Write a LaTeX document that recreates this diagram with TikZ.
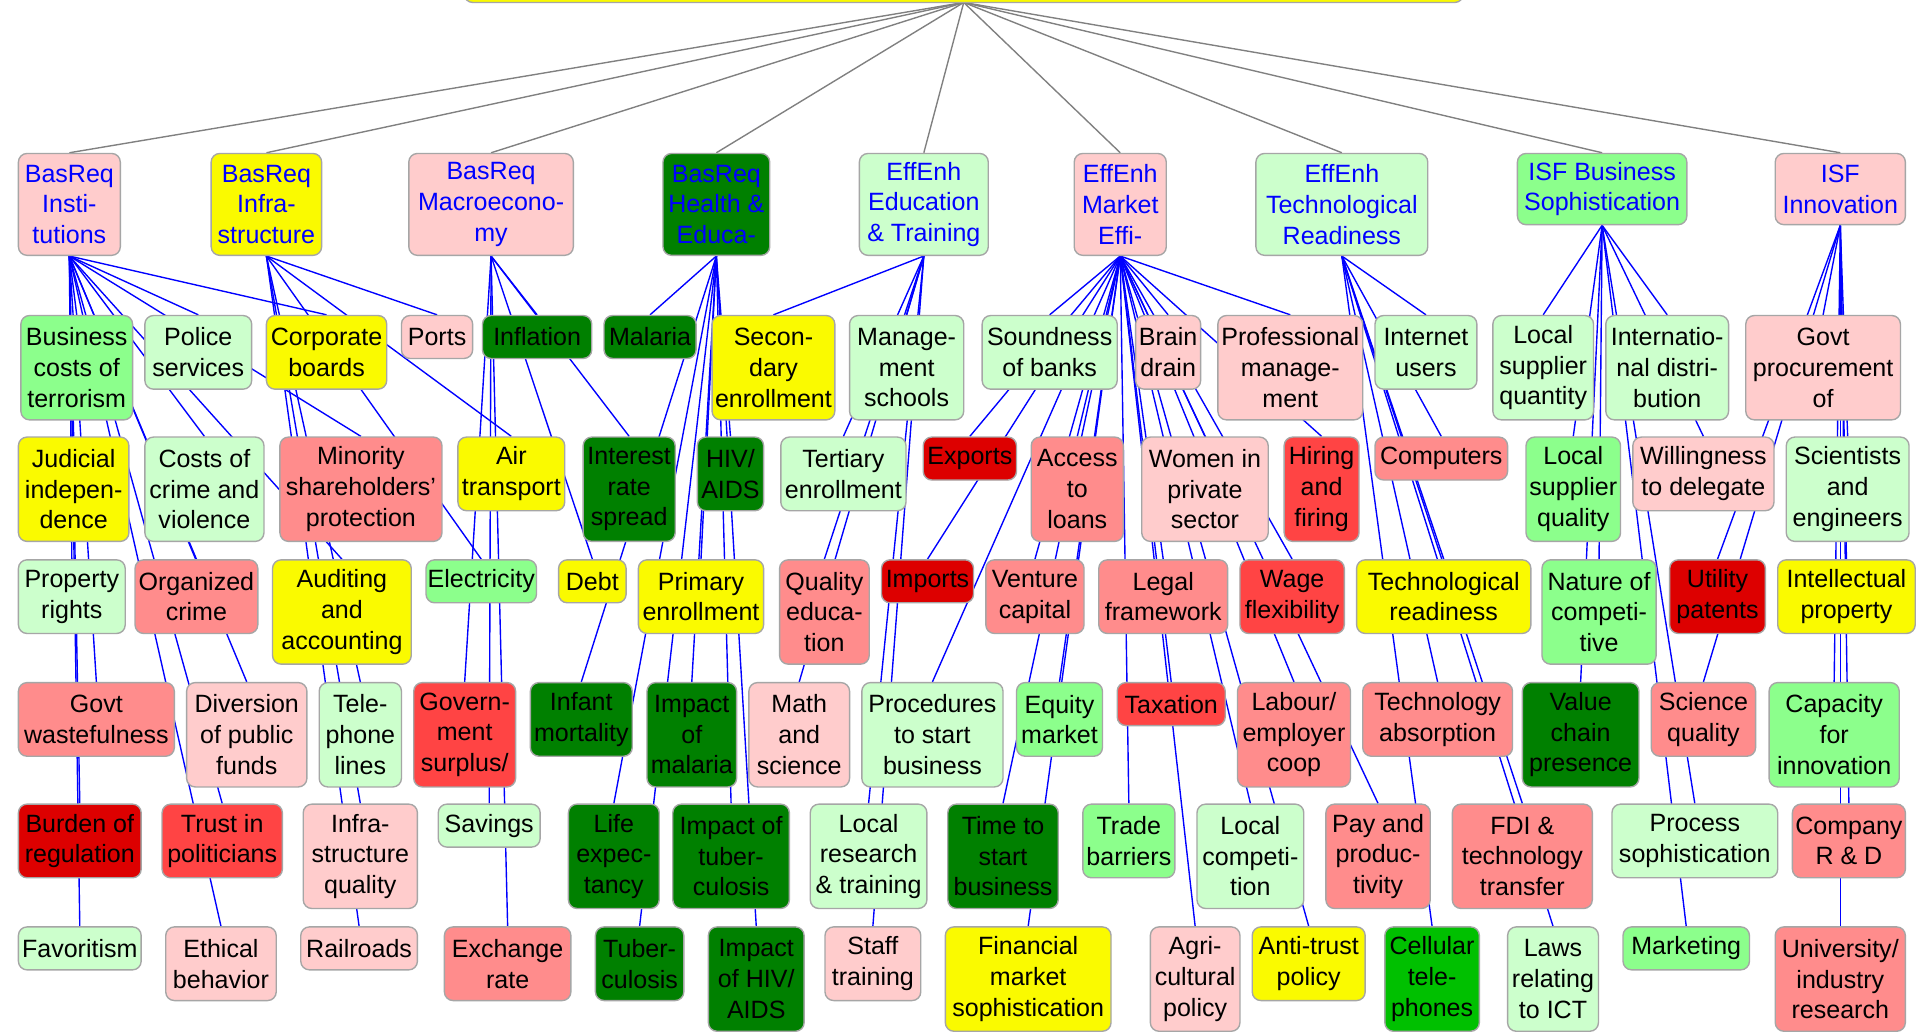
\documentclass[tikz,border=0pt]{standalone}
\usepackage{fontspec}
\setmainfont{Liberation Sans}
\usetikzlibrary{backgrounds}
\definecolor{cPink}{HTML}{FFCCCC}
\definecolor{cYellow}{HTML}{FAFA00}
\definecolor{cLgreen}{HTML}{CCFFCC}
\definecolor{cMgreen}{HTML}{8CFF8C}
\definecolor{cDgreen}{HTML}{008000}
\definecolor{cBgreen}{HTML}{00C000}
\definecolor{cSalmon}{HTML}{FF8C8C}
\definecolor{cRed}{HTML}{FF4444}
\definecolor{cDred}{HTML}{DD0000}
% box from corner (x1,y1) to corner (x2,y2)
\newcommand{\gbox}[7]{\node[#1,minimum width={(#5-#3)*0.025cm},minimum height={(#6-#4)*0.025cm}]
  (#2) at ({(#3+#5)/2},{(#4+#6)/2}) {#7};}
\begin{document}
\begin{tikzpicture}[x=0.025cm,y=-0.025cm,
  box/.style={draw=gray!70,line width=0.8pt,rounded corners=5pt,inner sep=0pt,align=center,
    font=\fontsize{14.5}{17.8}\selectfont},
  pkbox/.style={box,fill=cPink},
  yebox/.style={box,fill=cYellow},
  lgbox/.style={box,fill=cLgreen},
  mgbox/.style={box,fill=cMgreen},
  dgbox/.style={box,fill=cDgreen},
  bgbox/.style={box,fill=cBgreen},
  sabox/.style={box,fill=cSalmon},
  rdbox/.style={box,fill=cRed},
  drbox/.style={box,fill=cDred},
  cat/.style={text=blue},
  link/.style={blue,line width=0.8pt},
  tie/.style={gray,line width=0.8pt}]
\useasboundingbox (0,0) rectangle (1568,841);
\gbox{yebox}{top}{378}{-40}{1192}{2}{}
\coordinate (apex) at (785,2);
% pillars
\gbox{pkbox,cat}{ins}{15}{125}{98}{208}{BasReq\\Insti-\\tutions}
\gbox{yebox,cat}{inf}{172}{125}{262}{208}{BasReq\\Infra-\\structure}
\gbox{pkbox,cat}{mac}{333}{125}{467}{208}{BasReq\\Macroecono-\\my}
\gbox{dgbox,cat}{hea}{540}{125}{627}{208}{BasReq\\Health \&\\Educa-}
\gbox{lgbox,cat}{edu}{700}{125}{805}{208}{EffEnh\\Education\\\& Training}
\gbox{pkbox,cat}{mar}{875}{125}{950}{208}{EffEnh\\Market\\Effi-}
\gbox{lgbox,cat}{tec}{1023}{125}{1163}{208}{EffEnh\\Technological\\Readiness}
\gbox{mgbox,cat}{bus}{1236}{125}{1374}{183}{ISF Business\\Sophistication}
\gbox{pkbox,cat}{inn}{1446}{125}{1552}{183}{ISF\\Innovation}
% row 2
\gbox{mgbox}{bct}{17}{257}{108}{342}{Business\\costs of\\terrorism}
\gbox{lgbox}{pol}{118}{257}{205}{317}{Police\\services}
\gbox{yebox}{cbo}{217}{257}{315}{317}{Corporate\\boards}
\gbox{pkbox}{por}{327}{257}{385}{292}{Ports}
\gbox{dgbox}{infl}{393}{257}{482}{292}{Inflation}
\gbox{dgbox}{mal}{492}{257}{567}{292}{Malaria}
\gbox{yebox}{sec}{580}{257}{680}{342}{Secon-\\dary\\enrollment}
\gbox{lgbox}{mgs}{692}{257}{785}{342}{Manage-\\ment\\schools}
\gbox{lgbox}{snd}{800}{257}{910}{317}{Soundness\\of banks}
\gbox{pkbox}{brn}{925}{257}{978}{317}{Brain\\drain}
\gbox{pkbox}{prm}{992}{257}{1110}{342}{Professional\\manage-\\ment}
\gbox{lgbox}{inu}{1120}{257}{1203}{317}{Internet\\users}
\gbox{lgbox}{lsn}{1216}{257}{1298}{342}{Local\\supplier\\quantity}
\gbox{lgbox}{ind}{1308}{257}{1408}{342}{Internatio-\\nal distri-\\bution}
\gbox{pkbox}{gpr}{1422}{257}{1548}{342}{Govt\\procurement\\of}
% row 3
\gbox{yebox}{jud}{15}{356}{105}{441}{Judicial\\indepen-\\dence}
\gbox{lgbox}{ccv}{118}{356}{215}{441}{Costs of\\crime and\\violence}
\gbox{sabox}{msp}{228}{356}{360}{441}{Minority\\shareholders'\\protection}
\gbox{yebox}{air}{373}{356}{460}{416}{Air\\transport}
\gbox{dgbox}{irs}{475}{356}{550}{441}{Interest\\rate\\spread}
\gbox{dgbox}{hiv}{568}{356}{622}{416}{HIV/\\AIDS}
\gbox{lgbox}{ter}{636}{356}{738}{416}{Tertiary\\enrollment}
\gbox{drbox}{exp}{752}{356}{828}{391}{Exports}
\gbox{sabox}{acl}{840}{356}{915}{441}{Access\\to\\loans}
\gbox{pkbox}{wom}{930}{356}{1033}{441}{Women in\\private\\sector}
\gbox{rdbox}{hir}{1046}{356}{1107}{441}{Hiring\\and\\firing}
\gbox{sabox}{cmp}{1120}{356}{1228}{391}{Computers}
\gbox{mgbox}{lsq}{1243}{356}{1320}{441}{Local\\supplier\\quality}
\gbox{pkbox}{wtd}{1330}{356}{1445}{416}{Willingness\\to delegate}
\gbox{lgbox}{sce}{1455}{356}{1555}{441}{Scientists\\and\\engineers}
% row 4
\gbox{lgbox}{prr}{15}{456}{102}{516}{Property\\rights}
\gbox{sabox}{orc}{110}{456}{210}{516}{Organized\\crime}
\gbox{yebox}{aud}{222}{456}{335}{541}{Auditing\\and\\accounting}
\gbox{mgbox}{ele}{347}{456}{437}{491}{Electricity}
\gbox{yebox}{dbt}{455}{456}{510}{491}{Debt}
\gbox{yebox}{pen}{520}{456}{622}{516}{Primary\\enrollment}
\gbox{sabox}{qed}{635}{456}{708}{541}{Quality\\educa-\\tion}
\gbox{drbox}{imp}{718}{456}{793}{491}{Imports}
\gbox{sabox}{vca}{803}{456}{883}{516}{Venture\\capital}
\gbox{sabox}{lfr}{895}{456}{1000}{516}{Legal\\framework}
\gbox{rdbox}{wfl}{1010}{456}{1095}{516}{Wage\\flexibility}
\gbox{yebox}{trd}{1105}{456}{1247}{516}{Technological\\readiness}
\gbox{mgbox}{nat}{1256}{456}{1349}{541}{Nature of\\competi-\\tive}
\gbox{drbox}{upa}{1360}{456}{1438}{516}{Utility\\patents}
\gbox{yebox}{ipr}{1448}{456}{1560}{516}{Intellectual\\property}
% row 5
\gbox{sabox}{gwf}{15}{556}{142}{616}{Govt\\wastefulness}
\gbox{pkbox}{dpf}{152}{556}{250}{641}{Diversion\\of public\\funds}
\gbox{lgbox}{tel}{260}{556}{327}{641}{Tele-\\phone\\lines}
\gbox{rdbox}{gsu}{337}{556}{420}{641}{Govern-\\ment\\surplus/}
\gbox{dgbox}{inm}{432}{556}{515}{616}{Infant\\mortality}
\gbox{dgbox}{ima}{527}{556}{600}{641}{Impact\\of\\malaria}
\gbox{pkbox}{mas}{610}{556}{692}{641}{Math\\and\\science}
\gbox{lgbox}{pro}{702}{556}{817}{641}{Procedures\\to start\\business}
\gbox{mgbox}{eqm}{828}{556}{898}{616}{Equity\\market}
\gbox{rdbox}{tax}{910}{556}{998}{591}{Taxation}
\gbox{sabox}{lab}{1008}{556}{1100}{641}{Labour/\\employer\\coop}
\gbox{sabox}{tab}{1110}{556}{1232}{616}{Technology\\absorption}
\gbox{dgbox}{vch}{1240}{556}{1335}{641}{Value\\chain\\presence}
\gbox{sabox}{scq}{1345}{556}{1430}{616}{Science\\quality}
\gbox{mgbox}{cin}{1441}{556}{1547}{641}{Capacity\\for\\innovation}
% row 6
\gbox{drbox}{bur}{15}{655}{115}{715}{Burden of\\regulation}
\gbox{rdbox}{tru}{132}{655}{230}{715}{Trust in\\politicians}
\gbox{pkbox}{isq}{247}{655}{340}{740}{Infra-\\structure\\quality}
\gbox{lgbox}{sav}{357}{655}{440}{690}{Savings}
\gbox{dgbox}{lex}{463}{655}{537}{740}{Life\\expec-\\tancy}
\gbox{dgbox}{itb}{548}{655}{643}{740}{Impact of\\tuber-\\culosis}
\gbox{lgbox}{lrt}{660}{655}{755}{740}{Local\\research\\\& training}
\gbox{dgbox}{tsb}{772}{655}{862}{740}{Time to\\start\\business}
\gbox{mgbox}{tba}{882}{655}{957}{715}{Trade\\barriers}
\gbox{lgbox}{lco}{975}{655}{1062}{740}{Local\\competi-\\tion}
\gbox{sabox}{pay}{1080}{655}{1165}{740}{Pay and\\produc-\\tivity}
\gbox{sabox}{fdi}{1183}{655}{1297}{740}{FDI \&\\technology\\transfer}
\gbox{lgbox}{psp}{1313}{655}{1448}{715}{Process\\sophistication}
\gbox{sabox}{crd}{1460}{655}{1552}{715}{Company\\R \& D}
% row 7
\gbox{lgbox}{fav}{15}{755}{115}{790}{Favoritism}
\gbox{pkbox}{eth}{135}{755}{225}{815}{Ethical\\behavior}
\gbox{pkbox}{rai}{245}{755}{340}{790}{Railroads}
\gbox{sabox}{exr}{362}{755}{465}{815}{Exchange\\rate}
\gbox{dgbox}{tub}{485}{755}{557}{815}{Tuber-\\culosis}
\gbox{dgbox}{ihv}{577}{755}{655}{840}{Impact\\of HIV/\\AIDS}
\gbox{pkbox}{stt}{672}{755}{750}{815}{Staff\\training}
\gbox{yebox}{fms}{770}{755}{905}{840}{Financial\\market\\sophistication}
\gbox{pkbox}{agr}{937}{755}{1010}{840}{Agri-\\cultural\\policy}
\gbox{yebox}{atp}{1020}{755}{1112}{815}{Anti-trust\\policy}
\gbox{bgbox}{cel}{1128}{755}{1205}{840}{Cellular\\tele-\\phones}
\gbox{lgbox}{lict}{1228}{755}{1302}{840}{Laws\\relating\\to ICT}
\gbox{mgbox}{mkt}{1322}{755}{1425}{790}{Marketing}
\gbox{sabox}{uir}{1446}{755}{1552}{840}{University/\\industry\\research}
\begin{scope}[on background layer]
\fill[white] (0,0) rectangle (1568,841);
\foreach \p in {ins,inf,mac,hea,edu,mar,tec,bus,inn}
  \draw[tie] (apex) -- (\p.north);
\foreach \c in {bct,pol,cbo,jud,ccv,msp,prr,orc,aud,gwf,dpf,bur,tru,fav,eth}
  \draw[link] (ins.south) -- (\c.north);
\foreach \c in {por,air,ele,tel,isq,rai}
  \draw[link] (inf.south) -- (\c.north);
\foreach \c in {infl,irs,dbt,gsu,sav,exr}
  \draw[link] (mac.south) -- (\c.north);
\foreach \c in {mal,hiv,pen,inm,ima,lex,itb,tub,ihv}
  \draw[link] (hea.south) -- (\c.north);
\foreach \c in {sec,mgs,ter,qed,mas,lrt,stt}
  \draw[link] (edu.south) -- (\c.north);
\foreach \c in {snd,brn,prm,exp,acl,wom,hir,imp,vca,lfr,wfl,pro,eqm,tax,lab,tsb,tba,lco,pay,fms,agr,atp}
  \draw[link] (mar.south) -- (\c.north);
\foreach \c in {inu,cmp,trd,tab,fdi,cel,lict}
  \draw[link] (tec.south) -- (\c.north);
\foreach \c in {lsn,ind,lsq,wtd,nat,vch,psp,mkt}
  \draw[link] (bus.south) -- (\c.north);
\foreach \c in {gpr,sce,upa,ipr,scq,cin,crd,uir}
  \draw[link] (inn.south) -- (\c.north);
\end{scope}
\end{tikzpicture}
\end{document}
